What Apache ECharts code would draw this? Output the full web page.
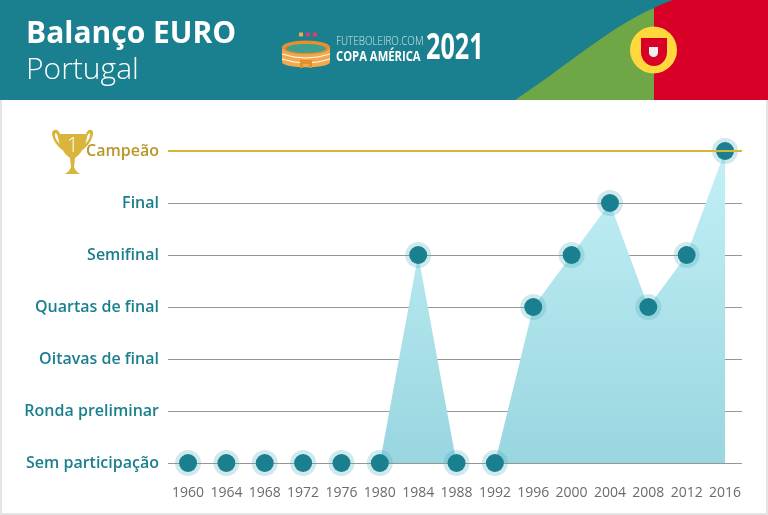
<!DOCTYPE html>
<html>
<head>
<meta charset="utf-8">
<script src="https://cdn.jsdelivr.net/npm/echarts@6/dist/echarts.min.js"></script>
<style>
  html, body { margin: 0; padding: 0; background: #fff; }
  #chart { width: 768px; height: 515px; }
</style>
</head>
<body>
<div id="chart"></div>
<script>
const years = [1960, 1964, 1968, 1972, 1976, 1980, 1984, 1988, 1992, 1996, 2000, 2004, 2008, 2012, 2016]
const stages = ['Sem participação', 'Ronda preliminar', 'Oitavas de final', 'Quartas de final', 'Semifinal', 'Final', 'Campeão']
const results = [0, 0, 0, 0, 0, 0, 4, 0, 0, 3, 4, 5, 3, 4, 6]

const teal = '#1a7f8e'
const gold = '#d9b53c'
const font = '"Open Sans"'

const points = years.map((y, i) => [y, results[i]])

// the graphic component has no plain 'path' type, so each svg path gets its own shape
let shapeCount = 0
function svg(pathData, style) {
  const name = 'deco' + shapeCount++
  echarts.graphic.registerShape(name, echarts.graphic.extendPath(pathData, {}))
  return { type: name, style: style }
}

const chart = echarts.init(document.getElementById('chart'), null, { renderer: 'canvas' })

chart.setOption({
  animation: false,
  grid: { left: 168, right: 26, top: 151, bottom: 52 },
  xAxis: {
    type: 'value',
    min: 1957.91,
    max: 2017.77,
    splitLine: { show: false },
    axisLine: { show: false },
    axisTick: { show: false },
    axisLabel: {
      customValues: years,
      formatter: (v) => String(v),
      color: '#6b6b6b',
      fontFamily: font,
      fontSize: 14,
      margin: 23
    }
  },
  yAxis: {
    type: 'value',
    min: 0,
    max: stages.length - 1,
    interval: 1,
    axisLine: { show: false },
    axisTick: { show: false },
    splitLine: { show: true, lineStyle: { color: '#969696', width: 1 } },
    axisLabel: {
      formatter: (v) => stages[v],
      color: (v) => (stages[v] === 'Campeão' ? '#b8962a' : teal),
      fontFamily: font,
      fontWeight: 600,
      fontSize: 16,
      margin: 9,
      padding: [4, 0, 0, 0]
    }
  },
  series: [
    {
      type: 'line',
      z: 1,
      data: [],
      silent: true,
      markLine: {
        silent: true,
        symbol: 'none',
        label: { show: false },
        lineStyle: { color: gold, width: 2, type: 'solid' },
        data: [{ yAxis: stages.length - 1 }]
      }
    },
    {
      type: 'line',
      z: 2,
      data: points,
      symbol: 'circle',
      symbolSize: 26,
      showSymbol: true,
      lineStyle: { width: 0 },
      itemStyle: { color: 'rgba(70,170,185,0.26)' },
      areaStyle: {
        opacity: 1,
        color: new echarts.graphic.LinearGradient(0, 0, 0, 1, [
          { offset: 0, color: '#c3f0f6' },
          { offset: 1, color: '#99d6e0' }
        ])
      }
    },
    {
      type: 'line',
      z: 3,
      data: points,
      symbol: 'circle',
      symbolSize: 18,
      showSymbol: true,
      lineStyle: { width: 0 },
      itemStyle: { color: teal }
    }
  ],
  graphic: [
    // page frame
    { type: 'rect', shape: { x: 0, y: 100, width: 2, height: 415 }, style: { fill: '#e4e4e4' } },
    { type: 'rect', shape: { x: 766, y: 100, width: 2, height: 415 }, style: { fill: '#e4e4e4' } },
    { type: 'rect', shape: { x: 0, y: 513, width: 768, height: 2 }, style: { fill: '#e4e4e4' } },
    // header band
    { type: 'rect', shape: { x: 0, y: 0, width: 768, height: 100 }, style: { fill: teal } },
    svg('M515 100C565 67 610 27 654 8L654 100Z', { fill: '#6fa646' }),
    svg('M654 8Q663 3.5 673 0L768 0L768 100L654 100Z', { fill: '#d80027' }),
    { type: 'circle', shape: { cx: 653.5, cy: 50, r: 23.5 }, style: { fill: '#ffd83d' } },
    svg('M641 38L667 38L667 52C667 60 661 66 654 66C647 66 641 60 641 52Z', { fill: '#d80027' }),
    svg('M649 47L658 47L658 53C658 55 656 57 653.5 57C651 57 649 55 649 53Z', { fill: '#eeeeee' }),
    // titles
    { type: 'text', x: 26, y: 19, style: { text: 'Balanço EURO', fill: '#fff', font: '700 30px ' + font } },
    { type: 'text', x: 26, y: 55, style: { text: 'Portugal', fill: '#fff', font: '300 30px ' + font } },
    // stadium logo
    { type: 'rect', shape: { x: 299, y: 32.5, width: 4, height: 4 }, style: { fill: '#f2a93b' } },
    { type: 'rect', shape: { x: 306, y: 32.5, width: 4, height: 4 }, style: { fill: '#c2477a' } },
    { type: 'rect', shape: { x: 313, y: 32.5, width: 4, height: 4 }, style: { fill: '#e0405f' } },
    svg('M282 48C282 39 330 39 330 48L330 62C330 69 282 69 282 62Z', { fill: '#f2a94e' }),
    { type: 'ellipse', shape: { cx: 306, cy: 47.5, rx: 24, ry: 7 }, style: { fill: '#e58f2e' } },
    { type: 'ellipse', shape: { cx: 306, cy: 48.5, rx: 20, ry: 4.5 }, style: { fill: '#3f9f8f' } },
    svg('M282 54Q306 62 330 54M282 59Q306 67 330 59', { fill: 'none', stroke: '#fff', lineWidth: 1 }),
    svg('M300 68L300 60L312 60L312 68L309 68L309 64L303 64L303 68Z', { fill: '#e58f2e' }),
    { type: 'text', x: 336, y: 35, scaleX: 0.76, style: { text: 'FUTEBOLEIRO.COM', fill: '#d5e7ea', font: '300 13px ' + font } },
    { type: 'text', x: 336, y: 49, scaleX: 0.75, style: { text: 'COPA AMÉRICA', fill: '#fff', font: '700 15px ' + font } },
    { type: 'text', x: 426, y: 32, scaleX: 0.72, style: { text: '2021', fill: '#fff', font: '700 35px ' + font } },
    // trophy
    svg('M52 134C52 129 58 128 60 134L86 134C88 128 94 129 93 134C92 141 87 147 81 151L79 149C84 146 90 140 90 135C90 132 88 133 87 137C86 146 80 155 75 158L74 167C75 170 77 172 80 174L65 174C68 172 70 170 71 167L70 158C65 155 59 146 58 137C57 133 55 132 55 135C55 140 61 146 66 149L64 151C58 147 53 141 52 134Z', { fill: gold }),
    { type: 'text', x: 67, y: 136, style: { text: '1', fill: '#fff', font: '300 20px ' + font } }
  ]
})
</script>
</body>
</html>
